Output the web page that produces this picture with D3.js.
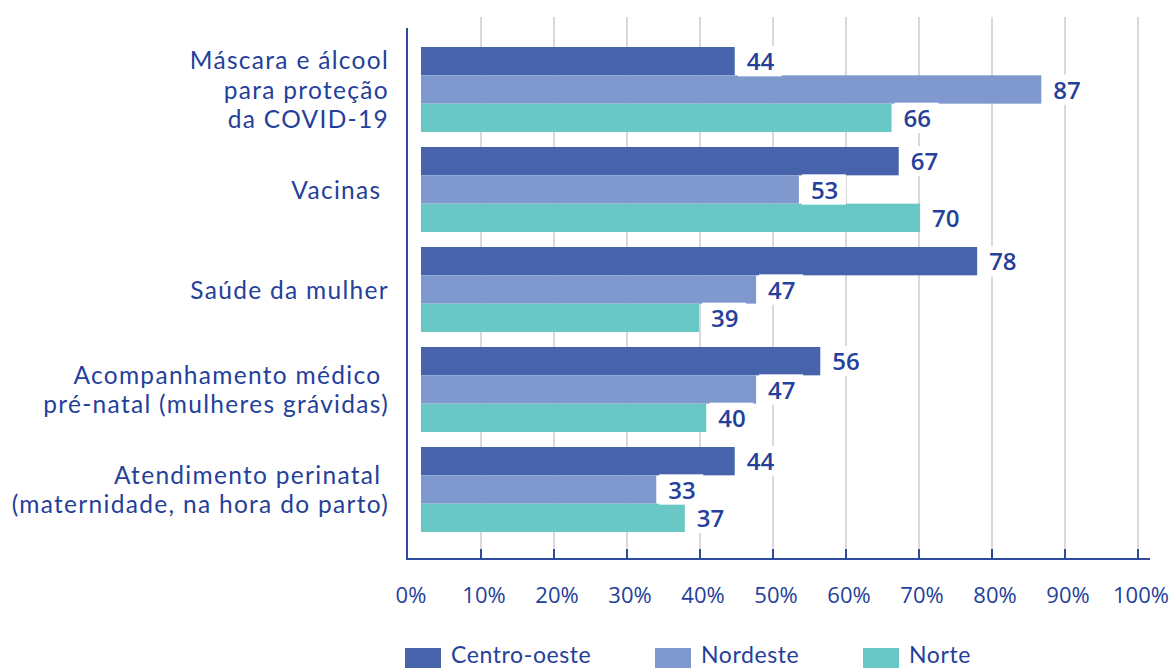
<!DOCTYPE html>
<html>
<head>
<meta charset="utf-8">
<script src="https://cdn.jsdelivr.net/npm/d3@7"></script>
<style>
  html, body { margin: 0; padding: 0; background: #ffffff; }
  svg { display: block; }
  text { font-family: "Open Sans", "Lato", sans-serif; fill: #24409a; }
  text.cat, text.leg { font-family: "Lato", "Open Sans", sans-serif; }
</style>
</head>
<body>
<svg id="chart" width="1169" height="668"></svg>
<script>
// Categories (with their wrapped label lines)
const categories = [
  "Máscara e álcool para proteção da COVID-19",
  "Vacinas",
  "Saúde da mulher",
  "Acompanhamento médico pré-natal (mulheres grávidas)",
  "Atendimento perinatal (maternidade, na hora do parto)"
];
const categoryLines = [
  ["Máscara e álcool", "para proteção", "da COVID-19"],
  ["Vacinas\u00A0"],
  ["Saúde da mulher"],
  ["Acompanhamento médico\u00A0", "pré-natal (mulheres grávidas)"],
  ["Atendimento perinatal\u00A0", "(maternidade, na hora do parto)"]
];

// Series (percent of respondents per region)
const seriesNames = ["Centro-oeste", "Nordeste", "Norte"];
const centroOeste = [44, 67, 78, 56, 44];
const nordeste    = [87, 53, 47, 47, 33];
const norte       = [66, 70, 39, 40, 37];
const seriesColors = ["#4763ab", "#7f99ce", "#69c7c6"];

// Axis ticks
const tickValues = [0, 10, 20, 30, 40, 50, 60, 70, 80, 90, 100];
const tickLabels = ["0%", "10%", "20%", "30%", "40%", "50%", "60%", "70%", "80%", "90%", "100%"];

const seriesValues = [centroOeste, nordeste, norte];
const rows = categories.map((c, i) => ({
  category: c,
  lines: categoryLines[i],
  values: seriesNames.map((s, j) => ({ series: s, value: seriesValues[j][i], color: seriesColors[j] }))
}));

const svg = d3.select("#chart");
const axisColor = "#2d4a9b";

// Scales
const xAxisScale = d3.scaleLinear().domain([0, 100]).range([408, 1138]);
const xBar = d3.scaleLinear().domain([0, 100]).range([421, 1134]);
const y0 = d3.scaleBand().domain(categories).range([47, 532]).paddingInner(0.15);
const y1 = d3.scaleBand().domain(seriesNames).range([0, y0.bandwidth()]);

const axisY = 559;

// Gridlines
svg.append("g").selectAll("line")
  .data(tickValues.filter(v => v > 0))
  .join("line")
  .attr("x1", d => xAxisScale(d)).attr("x2", d => xAxisScale(d))
  .attr("y1", 17).attr("y2", axisY - 10)
  .attr("stroke", "#d9d9d9").attr("stroke-width", 2);

// Axis lines and tick marks
svg.append("line")
  .attr("x1", 407).attr("x2", 407)
  .attr("y1", 28).attr("y2", axisY + 1)
  .attr("stroke", axisColor).attr("stroke-width", 2);
svg.append("line")
  .attr("x1", 406).attr("x2", 1150)
  .attr("y1", axisY).attr("y2", axisY)
  .attr("stroke", axisColor).attr("stroke-width", 2);
svg.append("g").selectAll("line")
  .data(tickValues.filter(v => v > 0))
  .join("line")
  .attr("x1", d => xAxisScale(d)).attr("x2", d => xAxisScale(d))
  .attr("y1", axisY - 10).attr("y2", axisY)
  .attr("stroke", axisColor).attr("stroke-width", 2);

// Tick labels
svg.append("g").selectAll("text")
  .data(tickValues)
  .join("text")
  .attr("x", d => xAxisScale(d) + 3)
  .attr("y", 603)
  .attr("text-anchor", "middle")
  .attr("font-size", 22)
  .text((d, i) => tickLabels[i]);

// Category labels
const lineGap = 29.5;
const catG = svg.append("g").selectAll("g")
  .data(rows)
  .join("g")
  .attr("transform", d => `translate(389, ${y0(d.category) + y0.bandwidth() / 2})`);
catG.selectAll("text")
  .data(d => d.lines.map((t, i) => ({ t, i, n: d.lines.length })))
  .join("text")
  .attr("class", "cat")
  .attr("x", 0)
  .attr("y", d => (d.i - (d.n - 1) / 2) * lineGap + 9)
  .attr("text-anchor", "end")
  .attr("font-size", 24.5)
  .attr("letter-spacing", 1.3)
  .text(d => d.t);

// Bars
const groups = svg.append("g").selectAll("g")
  .data(rows)
  .join("g")
  .attr("transform", d => `translate(0, ${y0(d.category)})`);

groups.selectAll("rect.bar")
  .data(d => d.values)
  .join("rect")
  .attr("class", "bar")
  .attr("x", xBar(0))
  .attr("y", d => y1(d.series))
  .attr("width", d => xBar(d.value) - xBar(0))
  .attr("height", y1.bandwidth())
  .attr("fill", d => d.color);

// Value labels on white boxes
const labelG = svg.append("g").selectAll("g")
  .data(rows)
  .join("g")
  .attr("transform", d => `translate(0, ${y0(d.category)})`);

const labels = labelG.selectAll("g")
  .data(d => d.values)
  .join("g");

labels.append("rect")
  .attr("x", d => xBar(d.value) + 3)
  .attr("y", d => y1(d.series) - 1)
  .attr("width", 44)
  .attr("height", y1.bandwidth() + 2)
  .attr("fill", "#ffffff");

labels.append("text")
  .attr("x", d => xBar(d.value) + 12)
  .attr("y", d => y1(d.series) + y1.bandwidth() / 2 + 9)
  .attr("font-size", 24)
  .attr("font-weight", 600)
  .text(d => d.value);

// Legend
const legend = svg.append("g").selectAll("g")
  .data(seriesNames.map((s, i) => ({ s, c: seriesColors[i], x: [405, 655, 863][i] })))
  .join("g")
  .attr("transform", d => `translate(${d.x}, 648)`);
legend.append("rect")
  .attr("width", 36).attr("height", 20)
  .attr("fill", d => d.c);
legend.append("text")
  .attr("class", "leg")
  .attr("x", 46).attr("y", 15)
  .attr("font-size", 23)
  .attr("letter-spacing", 0.6)
  .text(d => d.s);
</script>
</body>
</html>
